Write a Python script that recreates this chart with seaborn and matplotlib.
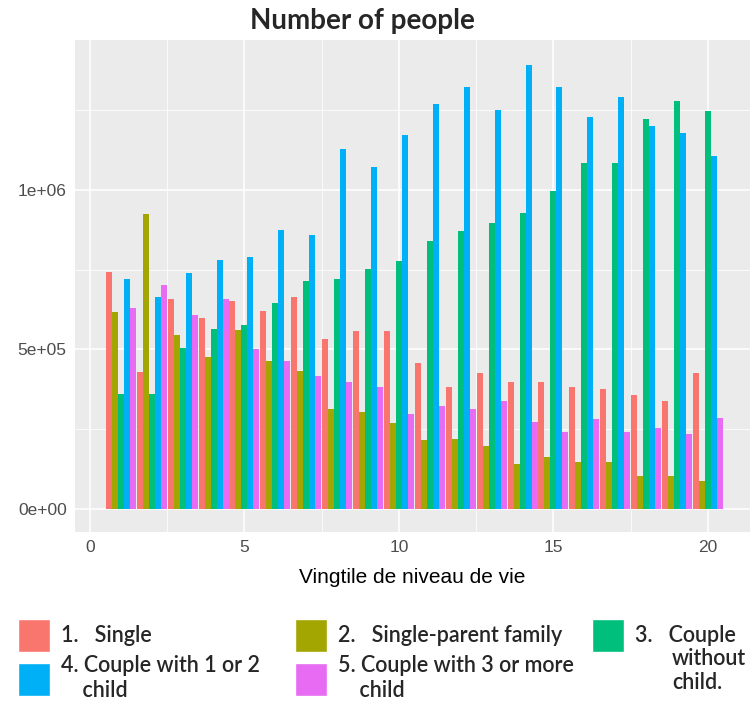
import pandas as pd
import matplotlib
matplotlib.use("Agg")
import matplotlib.pyplot as plt
import seaborn as sns
from matplotlib.patches import Patch
from matplotlib.ticker import MultipleLocator, FuncFormatter

# vingtiles de niveau de vie
vingtiles = list(range(1, 21))

# nombre de personnes par type de menage
single = [744e3, 428e3, 657e3, 600e3, 652e3, 621e3, 665e3, 532e3, 558e3, 558e3,
          457e3, 381e3, 426e3, 397e3, 397e3, 383e3, 376e3, 357e3, 339e3, 426e3]
single_parent = [616e3, 925e3, 545e3, 475e3, 560e3, 464e3, 433e3, 315e3, 303e3, 271e3,
                 215e3, 219e3, 198e3, 141e3, 162e3, 146e3, 146e3, 104e3, 104e3, 89e3]
couple_no_child = [360e3, 362e3, 506e3, 563e3, 576e3, 647e3, 715e3, 720e3, 751e3, 777e3,
                   840e3, 871e3, 897e3, 928e3, 996e3, 1083e3, 1085e3, 1223e3, 1278e3, 1247e3]
couple_1_2 = [720e3, 666e3, 739e3, 782e3, 790e3, 876e3, 858e3, 1127e3, 1071e3, 1171e3,
              1268e3, 1322e3, 1252e3, 1393e3, 1322e3, 1228e3, 1292e3, 1202e3, 1179e3, 1108e3]
couple_3_more = [631e3, 701e3, 607e3, 657e3, 501e3, 464e3, 417e3, 397e3, 381e3, 297e3,
                 323e3, 313e3, 339e3, 273e3, 240e3, 282e3, 240e3, 254e3, 235e3, 285e3]

categories = ["1", "2", "3", "4", "5"]
colors = ["#F8766D", "#A3A500", "#00BF7D", "#00B0F6", "#E76BF3"]

series = [single, single_parent, couple_no_child, couple_1_2, couple_3_more]
df = pd.concat(
    [pd.DataFrame({"vingtile": vingtiles, "people": vals, "type": cat})
     for cat, vals in zip(categories, series)],
    ignore_index=True,
)

sns.set_theme(style="darkgrid", rc={"axes.facecolor": "#EBEBEB", "grid.color": "white"})
plt.rcParams["font.family"] = ["Liberation Sans", "DejaVu Sans"]

W, H = 755, 716
fig = plt.figure(figsize=(W / 100, H / 100), dpi=100)
ax = fig.add_axes([75 / W, 1 - 532 / H, 675 / W, 492 / H])

sns.barplot(data=df, x="vingtile", y="people", hue="type", hue_order=categories,
            palette=colors, saturation=1, native_scale=True, width=0.97, gap=0,
            linewidth=0, errorbar=None, legend=False, ax=ax)

ax.set_xlim(-0.485, 21.36)
ax.set_ylim(-72e3, 1.470e6)
ax.xaxis.set_major_locator(MultipleLocator(5))
ax.xaxis.set_minor_locator(MultipleLocator(2.5))
ax.yaxis.set_major_locator(MultipleLocator(5e5))
ax.yaxis.set_minor_locator(MultipleLocator(2.5e5))
ax.yaxis.set_major_formatter(FuncFormatter(lambda v, p: f"{v:.0e}"))
ax.set_axisbelow(True)
ax.grid(which="major", color="white", linewidth=1.1)
ax.grid(which="minor", color="white", linewidth=0.55)
for s in ax.spines.values():
    s.set_visible(False)
ax.tick_params(which="major", length=4, width=0.9, color="#333333",
               labelcolor="#4D4D4D", labelsize=12.5, pad=2)
ax.tick_params(which="minor", length=0)

ax.set_xlabel("Vingtile de niveau de vie", fontsize=15, color="black", labelpad=9)
ax.set_ylabel("")
fig.text(362 / W, 1 - 21 / H, "Number of people", ha="center", va="center",
         fontsize=20, fontweight="bold", family=["Lato", "DejaVu Sans"])

# legende sous le graphique, une colonne a la fois
leg_font = {"family": ["Lato", "DejaVu Sans"], "size": 15.5, "weight": "semibold"}
leg_kw = dict(loc="upper left", frameon=False, handlelength=1.5, handleheight=2.0,
              labelspacing=0.15, handletextpad=0.5, borderpad=0, borderaxespad=0,
              prop=leg_font)
top = 1 - 619 / H
fig.legend([Patch(facecolor=colors[0]), Patch(facecolor=colors[3])],
           ["1.   Single", "4. Couple with 1 or 2\n    child"],
           bbox_to_anchor=(18 / W, top), **leg_kw)
fig.legend([Patch(facecolor=colors[1]), Patch(facecolor=colors[4])],
           ["2.   Single-parent family", "5. Couple with 3 or more\n    child"],
           bbox_to_anchor=(295 / W, top), **leg_kw)
fig.legend([Patch(facecolor=colors[2])], ["3.   Couple"],
           bbox_to_anchor=(592 / W, top), **leg_kw)
fig.text(672 / W, 1 - 648 / H, "without\nchild.", ha="left", va="top",
         linespacing=1.15, fontsize=15.5, fontweight="semibold", family=["Lato", "DejaVu Sans"])

fig.savefig("out.png", dpi=100)
